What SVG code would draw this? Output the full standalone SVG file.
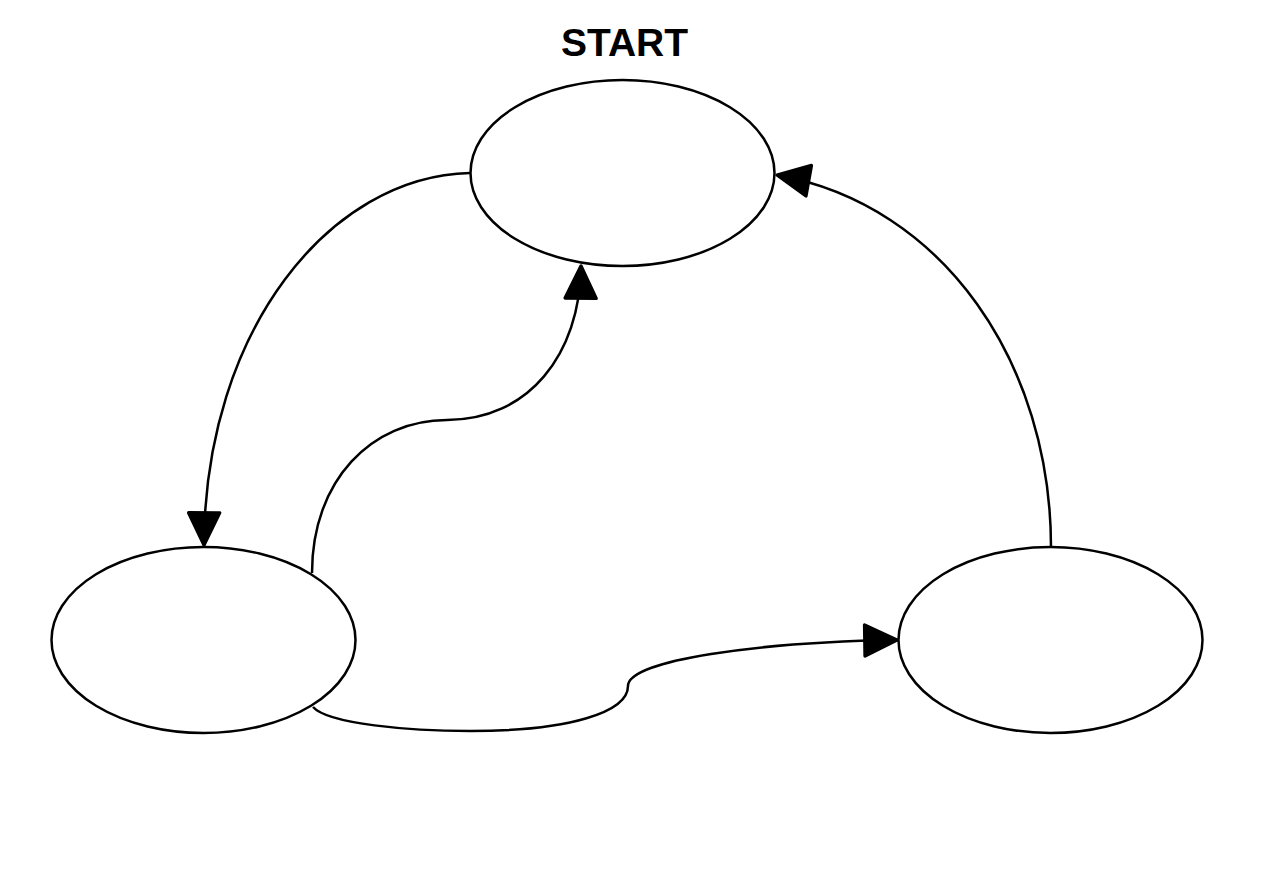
<svg xmlns="http://www.w3.org/2000/svg" width="1280" height="874" viewBox="0 0 1280 874">
  <style>
    .state { fill: #ffffff; stroke: #000000; stroke-width: 2.5; }
    .edge { fill: none; stroke: #000000; stroke-width: 2.5; }
    .title { font-family: "Liberation Sans", Arial, sans-serif; font-weight: bold; font-size: 39px; fill: #000000; }
  </style>
  <defs>
    <marker id="arrow" markerUnits="userSpaceOnUse" markerWidth="40" markerHeight="40" viewBox="-32 -17 36 34" refX="0" refY="0" orient="auto">
      <path d="M0,0 L-29,-14 L-29,14 Z" fill="#000000" stroke="#000000" stroke-width="3" stroke-linejoin="round"/>
    </marker>
  </defs>

  <rect width="1280" height="874" fill="#ffffff"/>

  <text class="title" x="624.5" y="56" text-anchor="middle">START</text>

  <g id="connectors">
    <!-- top state to left state -->
    <path class="edge" d="M470,173 C330,176 205,330 204,545" marker-end="url(#arrow)"/>
    <!-- left state back up to top state -->
    <path class="edge" d="M312,573 C312,480 372,420 447,420 C528,420 580,355 581,266" marker-end="url(#arrow)"/>
    <!-- left state to right state along the bottom -->
    <path class="edge" d="M313,707 C328,724 410,731 470,731 C570,731 628,712 628,686 C628,660 760,642 897,640" marker-end="url(#arrow)"/>
    <!-- right state up to top state -->
    <path class="edge" d="M1051,547 C1051,365 945,205 777,175" marker-end="url(#arrow)"/>
  </g>

  <g id="node-top">
    <ellipse class="state" cx="622.5" cy="173" rx="152" ry="93"/>
  </g>
  <g id="node-left">
    <ellipse class="state" cx="203.5" cy="640" rx="152" ry="93"/>
  </g>
  <g id="node-right">
    <ellipse class="state" cx="1050.5" cy="640" rx="152" ry="93"/>
  </g>
</svg>
